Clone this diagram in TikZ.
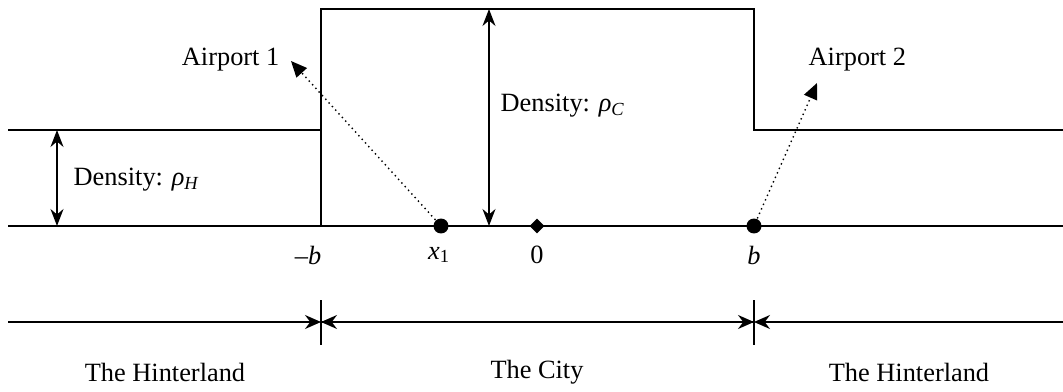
\documentclass[tikz,border=0pt]{standalone}
\usepackage{fontspec}
\setmainfont{Liberation Serif}
\usetikzlibrary{arrows.meta}

\begin{document}
\begin{tikzpicture}[x=0.02cm,y=-0.02cm,font=\fontsize{15}{18}\selectfont,line width=0.8pt,
  lbl/.style={inner sep=0pt},
  dens/.style={{Stealth[length=3.4mm,width=2.6mm]}-{Stealth[length=3.4mm,width=2.6mm]}},
  zone/.style={-{Stealth[length=3.2mm,width=2.8mm]}},
  flight/.style={dotted,-{Triangle[length=3.2mm,width=2.8mm]}}]
\useasboundingbox (0,0) rectangle (1063,392);

% ============ density profile ============
\coordinate (hl) at (8,130);
\coordinate (cl) at (321,130);
\coordinate (ct) at (321,9);
\coordinate (crt) at (754,9);
\coordinate (cr) at (754,130);
\coordinate (hr) at (1063,130);
\draw (hl) -- (cl) -- (ct) -- (crt) -- (cr) -- (hr);
\coordinate (bl) at (8,226);
\coordinate (br) at (1063,226);
\draw (bl) -- (br);
\draw (cl) -- (321,226);

% density arrows
\coordinate (rhoHtop) at (57,130);
\coordinate (rhoHbot) at (57,226);
\draw[dens] (rhoHtop) -- (rhoHbot);
\node[lbl,anchor=west] (rhoH) at (73,180) {Density: \textit{ρ}\textsubscript{\textit{H}}};
\coordinate (rhoCtop) at (489,9);
\coordinate (rhoCbot) at (489,226);
\draw[dens] (rhoCtop) -- (rhoCbot);
\node[lbl,anchor=west] (rhoC) at (500,106) {Density: \textit{ρ}\textsubscript{\textit{C}}};

% ============ airports ============
\node[circle,fill,inner sep=0pt,minimum size=0.3cm] (ap1) at (441,226) {};
\node[circle,fill,inner sep=0pt,minimum size=0.3cm] (ap2) at (754,226) {};
\node[fill,rotate=45,inner sep=0pt,minimum size=0.21cm] (orig) at (537,226) {};
\node[lbl,anchor=east] (air1) at (280,60) {Airport 1};
\node[lbl,anchor=west] (air2) at (808,60) {Airport 2};
\coordinate (tip1) at (291,61);
\coordinate (tip2) at (817,83);
\draw[flight] (ap1) -- (tip1);
\draw[flight] (ap2) -- (tip2);

% axis labels
\node (mb) at (308,255) {–\textit{b}};
\node (x1) at (439,255) {\textit{x}\textsubscript{1}};
\node (zero) at (537,255) {0};
\node (pb) at (754,255) {\textit{b}};

% ============ zones ============
\foreach \x/\n in {321/l,754/r}{
  \draw (\x,300) -- (\x,345);
  \coordinate (z\n) at (\x,322);
}
\coordinate (zs) at (8,322);
\coordinate (ze) at (1063,322);
\draw[zone] (zs) -- (zl);
\draw[zone] (zr) -- (zl);
\draw[zone] (zl) -- (zr);
\draw[zone] (ze) -- (zr);
\node (hint1) at (165,372) {The Hinterland};
\node (city) at (537,372) {The City};
\node (hint2) at (909,372) {The Hinterland};

\end{tikzpicture}
\end{document}
